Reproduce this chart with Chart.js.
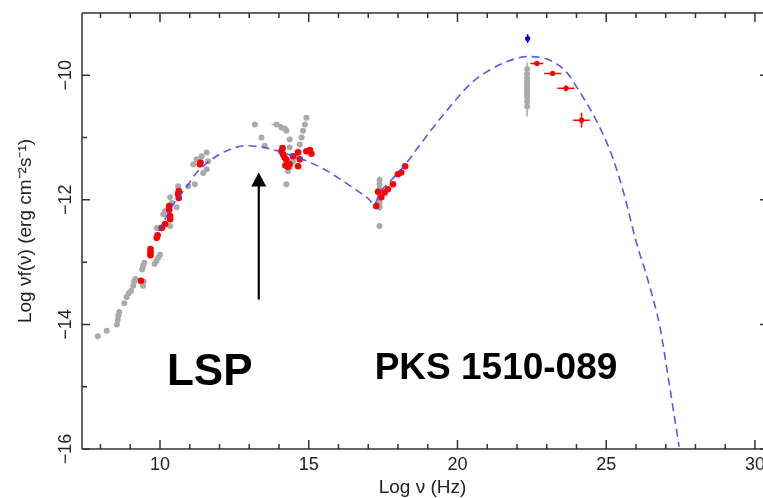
<!DOCTYPE html>
<html><head><meta charset="utf-8">
<script src="https://cdn.jsdelivr.net/npm/chart.js@4.4.0/dist/chart.umd.min.js"></script>
<style>html,body{margin:0;padding:0;background:#fff;}#wrap{width:763px;height:498px;}</style>
</head><body><div id="wrap"><canvas id="c" width="763" height="498"></canvas></div>
<script>
// ---- axis ranges and tick labels ----
const xRange = [7.378, 30.27];
const yRange = [-16, -9];
const xTickValues = [10, 15, 20, 25, 30];
const xMinorTicks = [8, 9, 11, 12, 13, 14, 16, 17, 18, 19, 21, 22, 23, 24, 26, 27, 28, 29];
const yTickValues = [-10, -12, -14, -16];
const yMinorTicks = [-11, -13, -15];

// ---- model curve (dashed blue) ----
const curveX = [9.95, 10.2, 10.45, 10.7, 11.0, 11.2, 11.6, 12.0, 12.4, 12.9, 13.4, 14.0, 14.5, 15.1, 15.6, 16.0, 16.5, 17.0, 17.2, 17.4, 17.8, 18.3, 18.7, 19.6, 20.5, 21.3, 21.9, 22.35, 23.0, 23.65, 24.1, 24.65, 25.2, 25.6, 26.0, 26.45, 26.8, 27.1, 27.45];
const curveY = [-12.50, -12.28, -12.07, -11.91, -11.72, -11.58, -11.40, -11.27, -11.18, -11.13, -11.15, -11.22, -11.30, -11.41, -11.53, -11.65, -11.81, -11.98, -12.07, -11.88, -11.67, -11.40, -11.14, -10.59, -10.11, -9.86, -9.74, -9.70, -9.74, -9.94, -10.26, -10.71, -11.30, -11.91, -12.66, -13.37, -14.03, -14.90, -15.96];

// ---- archival data (grey) ----
const grayX = [7.91, 8.21, 8.55, 8.58, 8.60, 8.63, 8.80, 8.88, 8.95, 9.03, 9.10, 9.13, 9.17, 9.43, 9.45, 9.40, 9.43, 9.47, 9.82, 9.88, 9.94, 10.0,
  9.89, 10.11, 10.17, 10.34, 10.39, 10.56, 10.34, 10.61, 10.95, 11.17, 11.12, 11.23, 11.40, 11.57, 11.62, 11.57, 11.45,
  13.19, 13.41, 13.52, 13.92, 14.08, 14.20, 14.25, 14.36, 14.36, 14.30, 14.25, 14.47, 14.36, 14.92, 14.87, 14.81, 14.76, 14.70, 14.64, 14.55, 14.20,
  17.38, 17.38, 17.38, 17.38, 17.38, 17.38, 17.38, 17.38,
  22.34, 22.34, 22.34, 22.34, 22.34, 22.34, 22.34, 22.34, 22.34, 22.34, 22.34];
const grayY = [-14.19, -14.10, -14.00, -13.93, -13.86, -13.80, -13.66, -13.56, -13.50, -13.46, -13.38, -13.31, -13.27, -13.38, -13.31, -13.12, -13.06, -13.01, -13.03, -12.98, -12.93, -12.88,
  -12.45, -12.23, -12.18, -11.96, -12.05, -12.12, -12.42, -11.78, -11.78, -11.75, -11.43, -11.35, -11.30, -11.24, -11.38, -11.51, -11.57,
  -10.79, -11.00, -11.13, -10.79, -10.84, -10.86, -10.89, -11.03, -11.16, -11.54, -11.75, -11.38, -11.48, -10.68, -10.79, -10.89, -11.00, -11.11, -11.22, -11.30, -11.45,
  -11.68, -11.75, -11.82, -11.90, -11.97, -12.05, -12.12, -12.42,
  -9.90, -9.98, -10.05, -10.10, -10.15, -10.20, -10.25, -10.30, -10.35, -10.42, -10.50];
const grayErrX = [13.92, 17.38, 22.34];
const grayErrY = [-10.79, -11.90, -10.225];
const grayErrDX = [0.17, 0, 0];
const grayErrDY = [0, 0.28, 0.435];

// ---- simultaneous data (red) ----
const redX = [9.36, 9.68, 9.68, 9.68, 9.89, 9.92, 10.06, 10.17, 10.34, 10.34, 10.31, 10.31, 10.61, 10.63, 10.63, 11.34, 11.36,
  14.08, 14.12, 14.14, 14.19, 14.25, 14.36, 14.30, 14.22, 14.47, 14.64, 14.70, 14.64, 14.92, 15.09, 15.04,
  17.27, 17.33, 17.44, 17.55, 17.66, 17.83, 18.0, 18.11, 18.24];
const redY = [-13.30, -12.79, -12.84, -12.89, -12.61, -12.57, -12.45, -12.39, -12.31, -12.26, -12.10, -12.16, -11.91, -11.86, -11.97, -11.43, -11.40,
  -11.22, -11.17, -11.27, -11.32, -11.36, -11.43, -11.47, -11.45, -11.30, -11.24, -11.35, -11.46, -11.22, -11.26, -11.20,
  -12.10, -11.87, -11.96, -11.88, -11.83, -11.75, -11.59, -11.56, -11.46];
// gamma-ray red points with error bars
const gamX = [22.67, 23.20, 23.65, 24.17];
const gamY = [-9.81, -9.97, -10.21, -10.72];
const gamDX = [0.22, 0.29, 0.29, 0.28];
const gamDY = [0.03, 0.03, 0.05, 0.12];
// blue point
const blueX = [22.36];
const blueY = [-9.41];
const blueDY = [0.07];

// ---- annotations ----
const arrowX = 13.32, arrowFrom = -13.60, arrowTo = -11.56;
const labels = [
  {text: 'LSP', x: 10.235, y: -14.966, size: 44},
  {text: 'PKS 1510-089', x: 17.215, y: -14.88, size: 37}
];

const FONT = '"Liberation Sans", Arial, Helvetica, sans-serif';
const TXT = '#222';
const pts = (xs, ys) => xs.map((x, i) => ({x, y: ys[i]}));

const decor = {
  id: 'decor',
  beforeDatasetsDraw(chart) {
    const {ctx, scales: {x, y}} = chart;
    ctx.save();
    ctx.lineWidth = 1.5;
    const bars = (xs, ys, dxs, dys, col) => {
      ctx.strokeStyle = col;
      xs.forEach((vx, i) => {
        const px = x.getPixelForValue(vx), py = y.getPixelForValue(ys[i]);
        ctx.beginPath();
        if (dxs[i]) { ctx.moveTo(x.getPixelForValue(vx - dxs[i]), py); ctx.lineTo(x.getPixelForValue(vx + dxs[i]), py); }
        if (dys[i]) { ctx.moveTo(px, y.getPixelForValue(ys[i] - dys[i])); ctx.lineTo(px, y.getPixelForValue(ys[i] + dys[i])); }
        ctx.stroke();
      });
    };
    bars(grayErrX, grayErrY, grayErrDX, grayErrDY, '#aaaaaa');
    bars(gamX, gamY, gamDX, gamDY, '#ff0000');
    bars(blueX, blueY, [0], blueDY, '#0000ff');
    ctx.restore();
  },
  afterDraw(chart) {
    const {ctx, chartArea: a, scales: {x, y}} = chart;
    const rightEdge = a.right + 5; // frame continues just past the picture edge
    ctx.save();
    // frame
    ctx.strokeStyle = '#333';
    ctx.lineWidth = 1.5;
    ctx.beginPath();
    ctx.moveTo(a.left, a.top); ctx.lineTo(a.right, a.top);
    ctx.moveTo(a.left, a.bottom); ctx.lineTo(a.right, a.bottom);
    ctx.moveTo(a.left, a.top); ctx.lineTo(a.left, a.bottom);
    ctx.stroke();
    // inward ticks
    ctx.beginPath();
    const xt = (v, len) => { const p = x.getPixelForValue(v);
      ctx.moveTo(p, a.bottom); ctx.lineTo(p, a.bottom - len);
      ctx.moveTo(p, a.top); ctx.lineTo(p, a.top + len); };
    const yt = (v, len) => { const p = y.getPixelForValue(v);
      ctx.moveTo(a.left, p); ctx.lineTo(a.left + len, p);
      ctx.moveTo(rightEdge, p); ctx.lineTo(rightEdge - len, p); };
    xTickValues.forEach(v => xt(v, 9));
    xMinorTicks.forEach(v => xt(v, 5));
    yTickValues.forEach(v => yt(v, 8));
    yMinorTicks.forEach(v => yt(v, 5));
    ctx.stroke();
    // tick labels
    ctx.fillStyle = TXT;
    ctx.font = '18px ' + FONT;
    ctx.textAlign = 'center';
    ctx.textBaseline = 'alphabetic';
    xTickValues.forEach(v => {
      ctx.fillText(String(v), x.getPixelForValue(v), a.bottom + 21);
    });
    yTickValues.forEach(v => {
      const p = y.getPixelForValue(v);
      ctx.save();
      ctx.translate(70.5, p);
      ctx.rotate(-Math.PI / 2);
      ctx.fillText((v < 0 ? '\u2212' : '') + Math.abs(v), 0, 0);
      ctx.restore();
    });
    // arrow
    const ax = x.getPixelForValue(arrowX);
    const ay0 = y.getPixelForValue(arrowFrom), ay1 = y.getPixelForValue(arrowTo);
    ctx.strokeStyle = '#000'; ctx.fillStyle = '#000';
    ctx.lineWidth = 2.2;
    ctx.beginPath(); ctx.moveTo(ax, ay0); ctx.lineTo(ax, ay1 + 12); ctx.stroke();
    ctx.beginPath(); ctx.moveTo(ax, ay1); ctx.lineTo(ax - 7.5, ay1 + 14); ctx.lineTo(ax + 7.5, ay1 + 14); ctx.closePath(); ctx.fill();
    // big labels
    ctx.textAlign = 'left';
    labels.forEach(l => {
      ctx.font = 'bold ' + l.size + 'px ' + FONT;
      ctx.fillText(l.text, x.getPixelForValue(l.x), y.getPixelForValue(l.y));
    });
    ctx.restore();
  }
};

new Chart(document.getElementById('c'), {
  type: 'scatter',
  data: {
    datasets: [
      {type: 'line', data: pts(curveX, curveY), borderColor: 'rgba(70,70,250,0.9)', borderWidth: 1.6, borderDash: [8, 5],
       pointRadius: 0, fill: false, cubicInterpolationMode: 'monotone', order: 0},
      {data: pts(blueX, blueY), backgroundColor: '#0000ff', borderWidth: 0, pointRadius: 2.6, order: 1},
      {data: pts(gamX, gamY), backgroundColor: '#ff0000', borderWidth: 0, pointRadius: 2.6, order: 2},
      {data: pts(redX, redY), backgroundColor: '#ff0000', borderWidth: 0, pointRadius: 3.3, order: 3},
      {data: pts(grayX, grayY), backgroundColor: '#aaaaaa', borderWidth: 0, pointRadius: 3, order: 4}
    ]
  },
  options: {
    responsive: false,
    animation: false,
    devicePixelRatio: 1,
    layout: {autoPadding: false, padding: {top: 13, right: 0, left: 0, bottom: 0}},
    plugins: {legend: {display: false}, tooltip: {enabled: false}},
    scales: {
      x: {
        type: 'linear', min: xRange[0], max: xRange[1],
        afterBuildTicks: s => { s.ticks = xTickValues.map(v => ({value: v})); },
        afterFit: s => { s.height = 49; s.paddingLeft = 0; s.paddingRight = 0; },
        grid: {display: false, drawTicks: false},
        border: {display: false},
        ticks: {display: false},
        title: {display: true, text: 'Log \u03bd (Hz)', color: TXT, font: {family: FONT, size: 19, lineHeight: 1.1}, padding: {top: 0, bottom: 0}}
      },
      y: {
        type: 'linear', min: yRange[0], max: yRange[1],
        afterBuildTicks: s => { s.ticks = yTickValues.map(v => ({value: v})); },
        afterFit: s => { s.width = 82; s.paddingTop = 0; s.paddingBottom = 0; },
        grid: {display: false, drawTicks: false},
        border: {display: false},
        ticks: {display: false},
        title: {display: true, text: 'Log \u03bdf(\u03bd) (erg cm\u207b\u00b2s\u207b\u00b9)', color: TXT, font: {family: FONT, size: 19, lineHeight: 1.2}, padding: {top: 14, bottom: 0}}
      }
    }
  },
  plugins: [decor]
});
</script></body></html>
